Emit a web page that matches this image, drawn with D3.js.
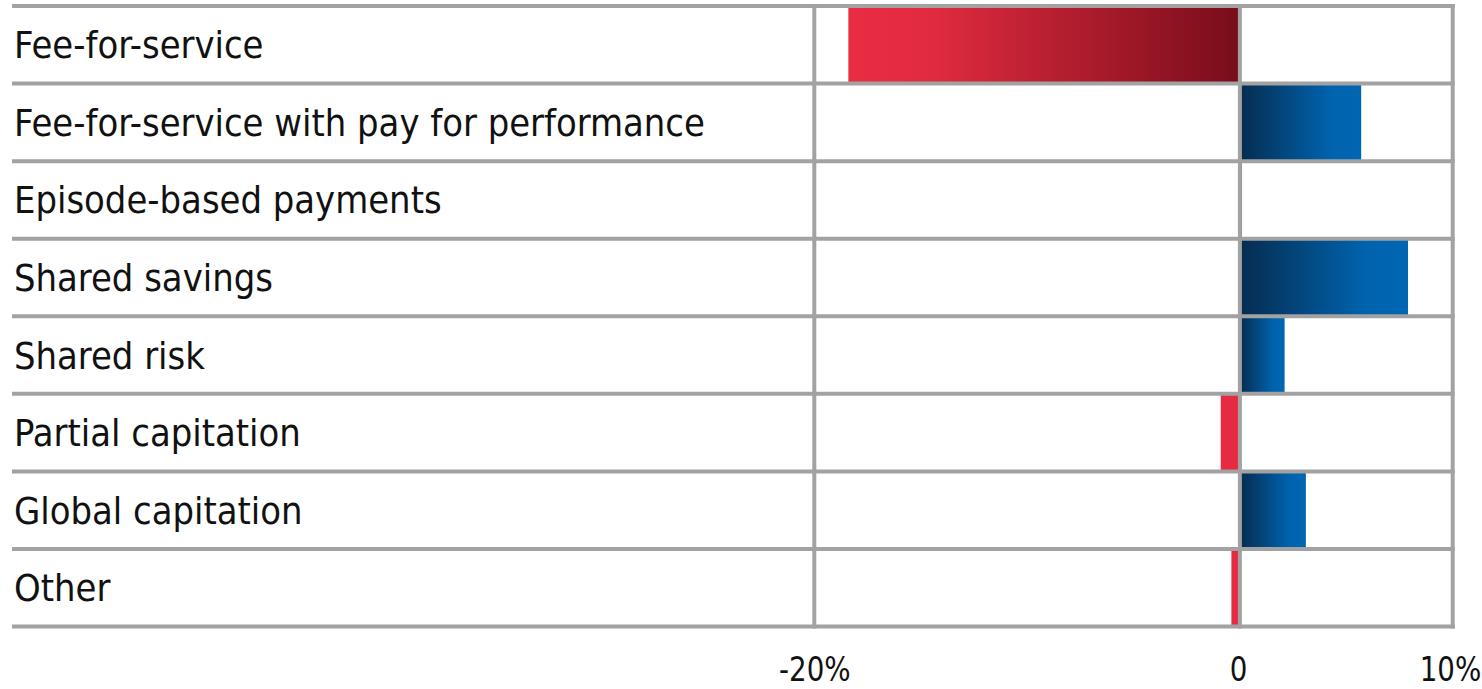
<!DOCTYPE html>
<html>
<head>
<meta charset="utf-8">
<script src="https://cdn.jsdelivr.net/npm/d3@7"></script>
<style>
  html, body { margin: 0; padding: 0; background: #fff; }
  svg { display: block; }
</style>
</head>
<body>
<svg id="chart" width="1482" height="689"></svg>
<script>
// Change in share of payments by payment model (percentage points)
const categories = [
  "Fee-for-service",
  "Fee-for-service with pay for performance",
  "Episode-based payments",
  "Shared savings",
  "Shared risk",
  "Partial capitation",
  "Global capitation",
  "Other"
];
const changes = [-18.4, 5.7, 0.1, 7.9, 2.1, -0.9, 3.1, -0.4];
const tickValues = [-20, 0, 10];
const tickLabels = ["-20%", "0", "10%"];

const svg = d3.select("#chart");
const gridColor = "#a2a2a2";
const gridWidth = 4;

const x = d3.scaleLinear().domain([-20, 10]).range([814.3, 1452.7]);
const y = d3.scaleBand().domain(categories).range([6, 626.5]).paddingInner(0).paddingOuter(0);

const rows = categories.map((c, i) => ({ category: c, value: changes[i] }));

// Gradients: declines fade from bright red to deep red, gains from navy to blue
const defs = svg.append("defs");
const red = defs.append("linearGradient").attr("id", "decline").attr("x1", 0).attr("x2", 1).attr("y1", 0).attr("y2", 0);
red.append("stop").attr("offset", 0).attr("stop-color", "#e92c43");
red.append("stop").attr("offset", 0.2).attr("stop-color", "#e22b40");
red.append("stop").attr("offset", 1).attr("stop-color", "#780d1a");
const blue = defs.append("linearGradient").attr("id", "gain").attr("x1", 0).attr("x2", 1).attr("y1", 0).attr("y2", 0);
blue.append("stop").attr("offset", 0).attr("stop-color", "#062c50");
blue.append("stop").attr("offset", 0.75).attr("stop-color", "#0063ae");
blue.append("stop").attr("offset", 1).attr("stop-color", "#0066b3");

function fillFor(v) {
  if (v >= 0) return "url(#gain)";
  return Math.abs(v) >= 1 ? "url(#decline)" : "#e62a41";
}

// Bars
svg.append("g").selectAll("rect")
  .data(rows)
  .join("rect")
  .attr("x", d => x(Math.min(0, d.value)))
  .attr("width", d => Math.abs(x(d.value) - x(0)))
  .attr("y", d => y(d.category))
  .attr("height", y.bandwidth())
  .attr("fill", d => fillFor(d.value));

// Horizontal row separators
const bounds = categories.map(c => y(c)).concat([y.range()[1]]);
svg.append("g").selectAll("line")
  .data(bounds)
  .join("line")
  .attr("x1", 12).attr("x2", x(10) + gridWidth / 2)
  .attr("y1", d => d).attr("y2", d => d)
  .attr("stroke", gridColor).attr("stroke-width", gridWidth);

// Vertical gridlines at the tick values
svg.append("g").selectAll("line")
  .data(tickValues)
  .join("line")
  .attr("x1", d => x(d)).attr("x2", d => x(d))
  .attr("y1", y.range()[0] - gridWidth / 2).attr("y2", y.range()[1] + gridWidth / 2)
  .attr("stroke", gridColor).attr("stroke-width", gridWidth);

// Category labels, sized so the longest fits the label column
const labelFont = "'DejaVu Sans Condensed', 'DejaVu Sans', Verdana, sans-serif";
const labels = svg.append("g").selectAll("text")
  .data(rows)
  .join("text")
  .attr("x", 14)
  .attr("y", d => y(d.category) + y.bandwidth() / 2)
  .attr("dy", "0.36em")
  .attr("fill", "#111")
  .style("font-family", labelFont)
  .style("font-size", "32px")
  .text(d => d.category);
let widest = 0;
labels.each(function () { widest = Math.max(widest, this.getComputedTextLength()); });
const labelSize = 32 * 691 / widest;
labels.style("font-size", labelSize + "px");

// Axis tick labels (narrowed horizontally around their anchor)
const axis = d3.axisBottom(x).tickValues(tickValues).tickFormat((d, i) => tickLabels[i]).tickSize(0).tickPadding(0);
const axisG = svg.append("g").attr("transform", "translate(0,681)").call(axis);
axisG.select(".domain").remove();
axisG.selectAll("text")
  .attr("y", 0).attr("dy", 0)
  .attr("x", d => d === 10 ? -3 : (d === 0 ? -2 : 0))
  .attr("transform", "scale(0.92,1)")
  .attr("fill", "#111")
  .style("font-family", "'Liberation Sans Narrow', 'DejaVu Sans Condensed', 'Arial Narrow', sans-serif")
  .style("font-size", "33.5px");
</script>
</body>
</html>
